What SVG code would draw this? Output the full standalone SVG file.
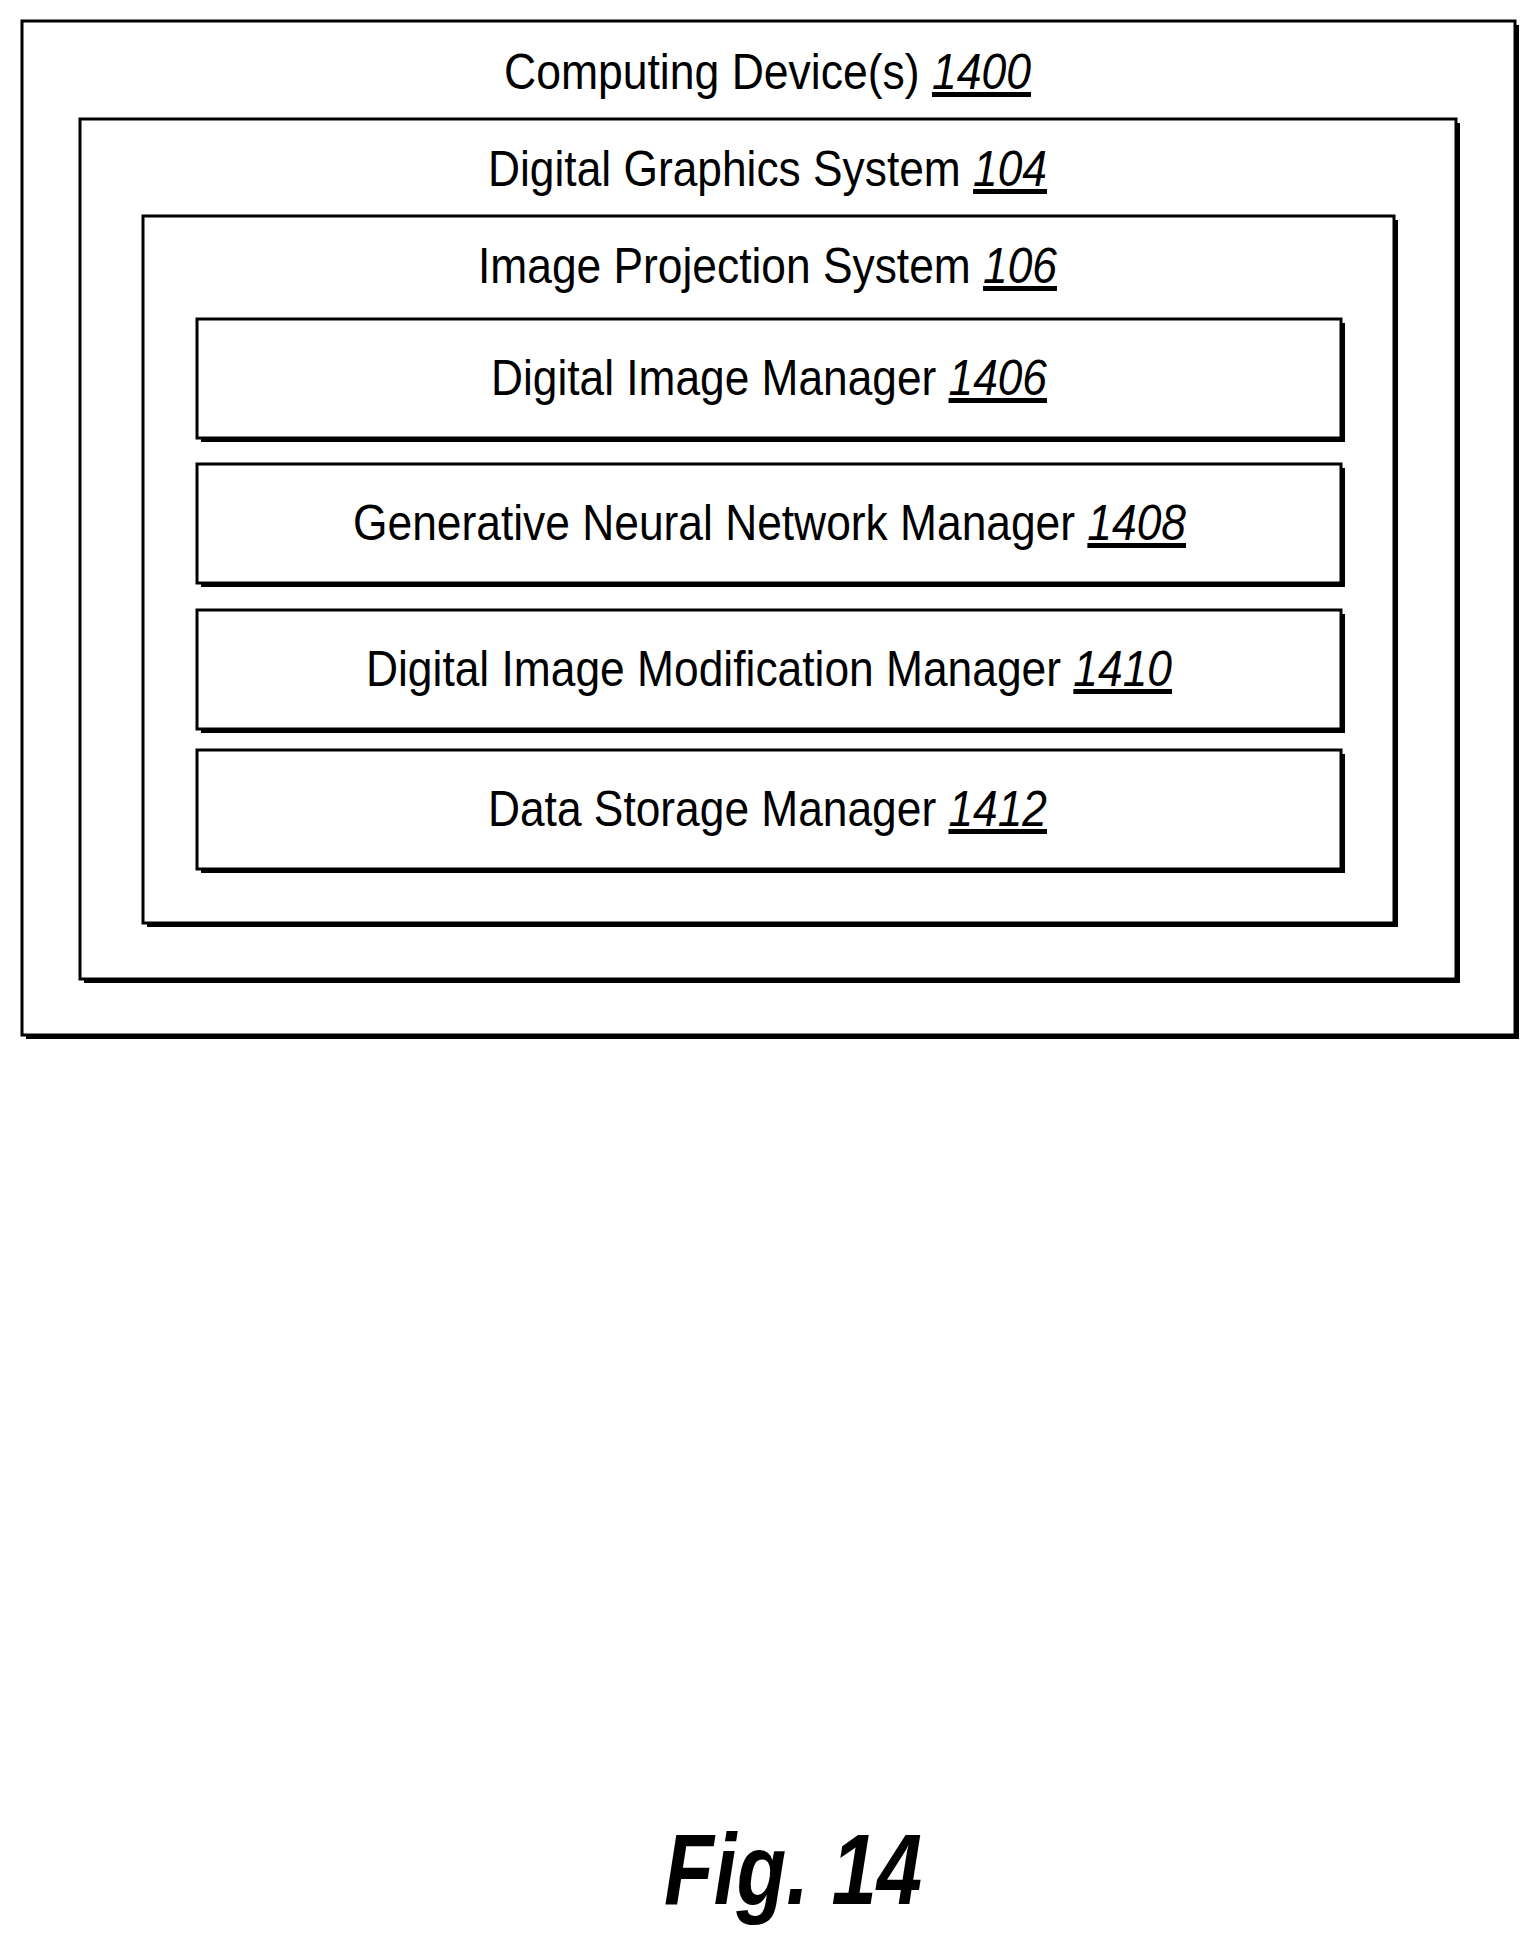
<svg xmlns="http://www.w3.org/2000/svg" width="1539" height="1951" viewBox="0 0 1539 1951">
<style>
.b{fill:#fff;stroke:#000;stroke-width:3}
.s{fill:#000}
.t{font-family:"Liberation Sans",Arial,sans-serif;font-size:50px;fill:#000}
.n{font-style:italic;text-decoration:underline}
</style>
<rect width="1539" height="1951" fill="#fff"/>
<g id="computing-device">
<rect class="s" x="26" y="25" width="1493" height="1014"/>
<rect class="b" x="22" y="21" width="1493" height="1014"/>
<text class="t" x="504" y="89" textLength="527" lengthAdjust="spacingAndGlyphs">Computing Device(s) <tspan class="n">1400</tspan></text>
</g>
<g id="digital-graphics-system">
<rect class="s" x="84" y="123" width="1376" height="860"/>
<rect class="b" x="80" y="119" width="1376" height="860"/>
<text class="t" x="488" y="186" textLength="559" lengthAdjust="spacingAndGlyphs">Digital Graphics System <tspan class="n">104</tspan></text>
</g>
<g id="image-projection-system">
<rect class="s" x="147" y="220" width="1251" height="707"/>
<rect class="b" x="143" y="216" width="1251" height="707"/>
<text class="t" x="478" y="283" textLength="579" lengthAdjust="spacingAndGlyphs">Image Projection System <tspan class="n">106</tspan></text>
</g>
<g id="digital-image-manager">
<rect class="s" x="201" y="323" width="1144" height="119"/>
<rect class="b" x="197" y="319" width="1144" height="119"/>
<text class="t" x="491" y="395" textLength="556" lengthAdjust="spacingAndGlyphs">Digital Image Manager <tspan class="n">1406</tspan></text>
</g>
<g id="generative-neural-network-manager">
<rect class="s" x="201" y="468" width="1144" height="119"/>
<rect class="b" x="197" y="464" width="1144" height="119"/>
<text class="t" x="353" y="540" textLength="833" lengthAdjust="spacingAndGlyphs">Generative Neural Network Manager <tspan class="n">1408</tspan></text>
</g>
<g id="digital-image-modification-manager">
<rect class="s" x="201" y="614" width="1144" height="119"/>
<rect class="b" x="197" y="610" width="1144" height="119"/>
<text class="t" x="366" y="686" textLength="806" lengthAdjust="spacingAndGlyphs">Digital Image Modification Manager <tspan class="n">1410</tspan></text>
</g>
<g id="data-storage-manager">
<rect class="s" x="201" y="754" width="1144" height="119"/>
<rect class="b" x="197" y="750" width="1144" height="119"/>
<text class="t" x="488" y="826" textLength="559" lengthAdjust="spacingAndGlyphs">Data Storage Manager <tspan class="n">1412</tspan></text>
</g>
<g id="connectors"/>
<text x="664" y="1904" textLength="258" lengthAdjust="spacingAndGlyphs" style="font-family:'Liberation Sans',Arial,sans-serif;font-size:100px;font-weight:bold;font-style:italic">Fig. 14</text>
</svg>
